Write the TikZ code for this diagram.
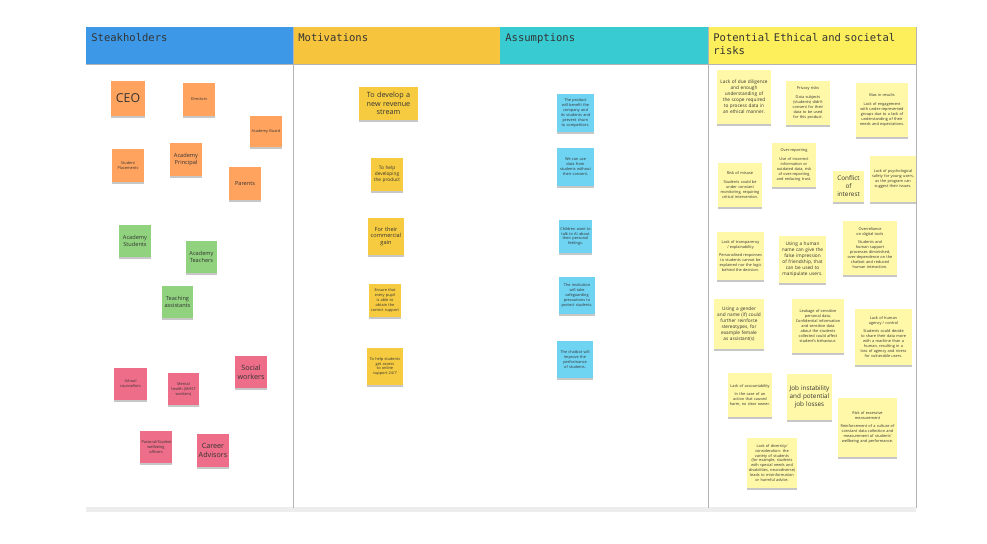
\documentclass[tikz,border=0pt]{standalone}
\usepackage{fontspec}
\setsansfont{Open Sans}
\setmonofont{DejaVu Sans Mono}
\usepackage{tikz}
\usetikzlibrary{positioning}
\usetikzlibrary{shadows}
\usepackage{xcolor}

\definecolor{hdBlue}{HTML}{3D99E8}
\definecolor{hdGold}{HTML}{F7C53D}
\definecolor{hdCyan}{HTML}{38CCD2}
\definecolor{hdLemon}{HTML}{FCEF5B}
\definecolor{stOrange}{HTML}{FFA35E}
\definecolor{stGreen}{HTML}{90D27E}
\definecolor{stPink}{HTML}{EE6E89}
\definecolor{stGold}{HTML}{F6CB40}
\definecolor{stSky}{HTML}{6FD3F2}
\definecolor{stPale}{HTML}{FFF8A8}
\definecolor{boardLine}{HTML}{B4B4B4}

\hyphenpenalty=10000
\exhyphenpenalty=10000
\hbadness=10000
\hfuzz=20pt

\newcommand{\fsBig}{\sffamily\fontsize{7}{8}\selectfont}
\newcommand{\fsMid}{\sffamily\fontsize{4.1}{5}\selectfont}
\newcommand{\fsMed}{\sffamily\fontsize{3.6}{4.6}\selectfont}
\newcommand{\fsSmall}{\sffamily\fontsize{3.2}{3.9}\selectfont}
\newcommand{\fsNote}{\sffamily\fontsize{2.7}{3.4}\selectfont}
\newcommand{\fsTiny}{\sffamily\fontsize{2.2}{2.8}\selectfont}

\begin{document}
\begin{tikzpicture}[x=0.02cm,y=-0.02cm]
  \tikzset{
    sticky/.style={rectangle,inner sep=0.5pt,align=center,text=black!80,
      drop shadow={shadow xshift=0.2pt,shadow yshift=-1.3pt,opacity=0.22,fill=black}},
    header/.style={anchor=north west,inner sep=0pt,font=\ttfamily\fontsize{6}{7.6}\selectfont,text=black!80,align=left}
  }
  \useasboundingbox (0,0) rectangle (987,544);

  % board and column headers
  \fill[hdBlue] (86,27) rectangle (293,64);
  \fill[hdGold] (293,27) rectangle (500,64);
  \fill[hdCyan] (500,27) rectangle (708,64);
  \fill[hdLemon] (708,27) rectangle (916,64);
  \fill[black!7] (86,507) rectangle (916,512);
  \draw[boardLine,line width=0.4pt] (86,64) -- (916,64);
  \draw[boardLine,line width=0.4pt] (293,27) -- (293,508);
  \draw[boardLine,line width=0.4pt] (708,27) -- (708,508);
  \draw[boardLine,line width=0.4pt] (916,27) -- (916,508);
  \node[header] (hstake) at (91,33) {Steakholders};
  \node[header] (hmotiv) at (298,33) {Motivations};
  \node[header] (hassum) at (505,33) {Assumptions};
  \node[header,text width=3.95cm] (hrisk) at (713,33) {Potential Ethical and societal risks};

  % stakeholders
  \begin{scope}[every node/.style={sticky}]
    \node[fill=stOrange,minimum width=0.68cm,minimum height=0.70cm,text width=0.6cm,font=\fsBig] (ceo) at (128,98.5) {CEO};
    \node[fill=stOrange,minimum width=0.64cm,minimum height=0.66cm,text width=0.58cm,font=\fsTiny] (direct) at (199,99.5) {Directors};
    \node[fill=stOrange,minimum width=0.64cm,minimum height=0.62cm,text width=0.58cm,font=\fsTiny] (board) at (266,131.5) {Academy Board};
    \node[fill=stOrange,minimum width=0.64cm,minimum height=0.66cm,text width=0.58cm,font=\fsTiny] (place) at (128,165.5) {Student Placements};
    \node[fill=stOrange,minimum width=0.64cm,minimum height=0.66cm,text width=0.6cm,font=\fsSmall] (princ) at (186,159.5) {Academy Principal};
    \node[fill=stOrange,minimum width=0.64cm,minimum height=0.66cm,text width=0.6cm,font=\fsSmall] (parent) at (245,183.5) {Parents};
    \node[fill=stGreen,minimum width=0.64cm,minimum height=0.64cm,text width=0.6cm,font=\fsSmall] (stud) at (135,241) {Academy Students};
    \node[fill=stGreen,minimum width=0.62cm,minimum height=0.64cm,text width=0.58cm,font=\fsSmall] (teach) at (201.5,257) {Academy Teachers};
    \node[fill=stGreen,minimum width=0.62cm,minimum height=0.64cm,text width=0.58cm,font=\fsSmall] (assist) at (177.5,302) {Teaching assistants};
    \node[fill=stPink,minimum width=0.66cm,minimum height=0.64cm,text width=0.6cm,font=\fsTiny] (couns) at (130.5,384) {School counsellors};
    \node[fill=stPink,minimum width=0.62cm,minimum height=0.64cm,text width=0.56cm,font=\fsTiny] (mhst) at (183.5,389) {Mental health (MHST workers)};
    \node[fill=stPink,minimum width=0.64cm,minimum height=0.64cm,text width=0.6cm,font=\fsMid] (social) at (251,372) {Social workers};
    \node[fill=stPink,minimum width=0.64cm,minimum height=0.64cm,text width=0.58cm,font=\fsTiny] (pastor) at (156,447) {Pastoral/Student wellbeing officers};
    \node[fill=stPink,minimum width=0.64cm,minimum height=0.66cm,text width=0.6cm,font=\fsMid] (career) at (213,450.5) {Career Advisors};
  \end{scope}

  % motivations
  \begin{scope}[every node/.style={sticky,fill=stGold}]
    \node[minimum width=1.18cm,minimum height=0.66cm,text width=1.0cm,font=\fsMid] (revenue) at (388.5,103.5) {To develop a new revenue stream};
    \node[minimum width=0.64cm,minimum height=0.66cm,text width=0.56cm,font=\fsNote] (product) at (387,174.5) {To help developing the product};
    \node[minimum width=0.72cm,minimum height=0.74cm,text width=0.64cm,font=\fsSmall] (gain) at (386,236.5) {For their commercial gain};
    \node[minimum width=0.64cm,minimum height=0.66cm,text width=0.58cm,font=\fsTiny] (ensure) at (385,300.5) {Ensure that every pupil is able to obtain the correct support};
    \node[minimum width=0.72cm,minimum height=0.74cm,text width=0.64cm,font=\fsTiny] (online) at (385,366.5) {To help students get access to online support 24/7};
  \end{scope}

  % assumptions
  \begin{scope}[every node/.style={sticky,fill=stSky,font=\fsTiny}]
    \node[minimum width=0.74cm,minimum height=0.76cm,text width=0.68cm] (benefit) at (575.5,113) {The product will benefit the company and its students and prevent churn to competitors.};
    \node[minimum width=0.74cm,minimum height=0.76cm,text width=0.62cm] (consent) at (575.5,167) {We can use data from students without their consent.};
    \node[minimum width=0.66cm,minimum height=0.66cm,text width=0.62cm] (talk) at (575.5,236.5) {Children want to talk to AI about their personal feelings.};
    \node[minimum width=0.72cm,minimum height=0.74cm,text width=0.66cm] (safe) at (577,295.5) {The institution will take safeguarding precautions to protect students.};
    \node[minimum width=0.72cm,minimum height=0.74cm,text width=0.62cm] (perform) at (575,359.5) {The chatbot will improve the performance of students.};
  \end{scope}

  % potential ethical and societal risks
  \begin{scope}[every node/.style={sticky,fill=stPale,font=\fsTiny}]
    \node[minimum width=1.08cm,minimum height=1.08cm,text width=1.0cm,font=\fsNote] (dilig) at (744,97) {Lack of due diligence and enough understanding of the scope required to process data in an ethical manner.};
    \node[minimum width=0.88cm,minimum height=0.88cm,text width=0.8cm] (privacy) at (808,103) {Privacy risks\\[2pt] Data subjects (students) didn't consent for their data to be used for this product.};
    \node[minimum width=1.04cm,minimum height=1.08cm,text width=0.96cm] (bias) at (882,110) {Bias in results\\[2pt] Lack of engagement with under-represented groups due to a lack of understanding of their needs and expectations.};
    \node[minimum width=0.88cm,minimum height=0.88cm,text width=0.82cm] (overrep) at (794,165) {Over-reporting\\[2pt] Use of incorrect information or outdated data, risk of over-reporting and reducing trust.};
    \node[minimum width=0.88cm,minimum height=0.88cm,text width=0.8cm] (misuse) at (740,185) {Risk of misuse\\[2pt] Students could be under constant monitoring, requiring critical intervention.};
    \node[minimum width=0.62cm,minimum height=0.62cm,text width=0.58cm,font=\fsMed] (conflict) at (848.5,186.5) {Conflict of interest};
    \node[minimum width=0.92cm,minimum height=0.92cm,text width=0.86cm] (psych) at (893,179) {Lack of psychological safety for young users, as the program can suggest their issues.};
    \node[minimum width=0.94cm,minimum height=0.96cm,text width=0.88cm] (transp) at (740.5,256) {Lack of transparency / explainability\\[2pt] Personalised responses to students cannot be explained nor the logic behind the decision.};
    \node[minimum width=0.94cm,minimum height=0.94cm,text width=0.88cm,font=\fsNote] (humname) at (802.5,259.5) {Using a human name can give the false impression of friendship, that can be used to manipulate users.};
    \node[minimum width=1.08cm,minimum height=1.08cm,text width=1.0cm] (relian) at (870,248) {Overreliance on digital tools\\[2pt] Students and human support processes diminished, over-dependence on the chatbot and reduced human interaction.};
    \node[minimum width=1.0cm,minimum height=1.0cm,text width=0.94cm,font=\fsNote] (gender) at (739,324) {Using a gender and name (if) could further reinforce stereotypes, for example female as assistant(s)};
    \node[minimum width=1.04cm,minimum height=1.08cm,text width=0.98cm] (leak) at (818,326) {Leakage of sensitive personal data. Confidential information and sensitive data about the students collected could affect student's behaviour.};
    \node[minimum width=1.14cm,minimum height=1.12cm,text width=1.06cm] (agency) at (883.5,337) {Lack of human agency / control\\[2pt] Students could decide to share their data more with a machine than a human, resulting in a loss of agency and stress for vulnerable users.};
    \node[minimum width=0.88cm,minimum height=0.88cm,text width=0.82cm] (account) at (750,395) {Lack of accountability\\[2pt] In the case of an action that caused harm, no clear owner.};
    \node[minimum width=0.9cm,minimum height=0.92cm,text width=0.86cm,font=\fsMed] (jobs) at (809.5,397) {Job instability and potential job losses};
    \node[minimum width=1.18cm,minimum height=1.18cm,text width=1.1cm] (measure) at (867.5,427.5) {Risk of excessive measurement\\[2pt] Reinforcement of a culture of constant data collection and measurement of students' wellbeing and performance.};
    \node[minimum width=1.0cm,minimum height=1.0cm,text width=0.94cm] (divers) at (772,463) {Lack of diversity/ consideration: the variety of students (for example, students with special needs and disabilities, neurodiverse) leads to misinformation or harmful advice.};
  \end{scope}
\end{tikzpicture}
\end{document}
